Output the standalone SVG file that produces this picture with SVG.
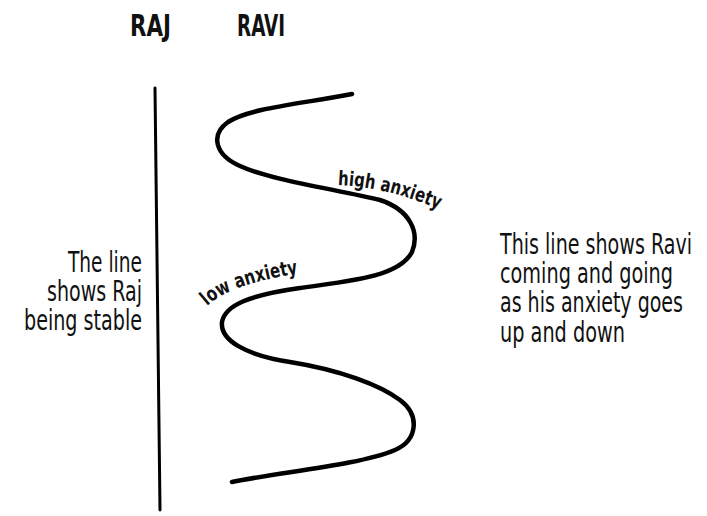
<svg xmlns="http://www.w3.org/2000/svg" width="707" height="516" viewBox="0 0 707 516">
<style>
.t{font-family:"Liberation Sans Narrow","DejaVu Sans Condensed","Liberation Sans",Arial,sans-serif;fill:#111;}
.title{font-size:30px;font-weight:bold;}
.body{font-size:29px;}
.lbl{font-size:20px;font-weight:bold;}
.ln{fill:none;stroke:#000;stroke-linecap:round;stroke-linejoin:round;}
</style>
<defs>
<path id="hiPath" d="M338,185 C360,186 395,190 440,210"/>
<path id="loPath" d="M207,306 Q232,283 302,273"/>
</defs>
<rect width="707" height="516" fill="#fff"/>
<g id="raj-title"><text class="t title" x="130" y="36" textLength="41" lengthAdjust="spacingAndGlyphs">RAJ</text></g>
<g id="ravi-title"><text class="t title" x="237" y="36" textLength="48" lengthAdjust="spacingAndGlyphs">RAVI</text></g>
<g id="connectors">
<path id="raj-line" class="ln" stroke-width="3" d="M155,88 C157,200 158,350 160,510"/>
<path id="ravi-line" class="ln" stroke-width="4.5" d="M352,94 C300,104 250,108 228,122 C210,135 215,155 240,166 C270,180 340,190 380,200 C410,210 420,232 412,252 C400,275 360,280 300,288 C250,295 225,305 222,322 C220,340 245,355 290,362 C340,370 380,385 400,400 C420,415 418,440 395,450 C360,465 280,472 232,482"/>
</g>
<g id="high-label"><text class="t lbl" textLength="104" lengthAdjust="spacingAndGlyphs"><textPath href="#hiPath">high anxiety</textPath></text></g>
<g id="low-label"><text class="t lbl" textLength="98" lengthAdjust="spacingAndGlyphs"><textPath href="#loPath">low anxiety</textPath></text></g>
<g id="raj-note">
<text class="t body" x="142" y="272" text-anchor="end" textLength="74" lengthAdjust="spacingAndGlyphs">The line</text>
<text class="t body" x="142" y="301" text-anchor="end" textLength="95" lengthAdjust="spacingAndGlyphs">shows Raj</text>
<text class="t body" x="142" y="330" text-anchor="end" textLength="118" lengthAdjust="spacingAndGlyphs">being stable</text>
</g>
<g id="ravi-note">
<text class="t body" x="500" y="254" textLength="192" lengthAdjust="spacingAndGlyphs">This line shows Ravi</text>
<text class="t body" x="500" y="283" textLength="173" lengthAdjust="spacingAndGlyphs">coming and going</text>
<text class="t body" x="500" y="312" textLength="183" lengthAdjust="spacingAndGlyphs">as his anxiety goes</text>
<text class="t body" x="500" y="342" textLength="125" lengthAdjust="spacingAndGlyphs">up and down</text>
</g>
</svg>
